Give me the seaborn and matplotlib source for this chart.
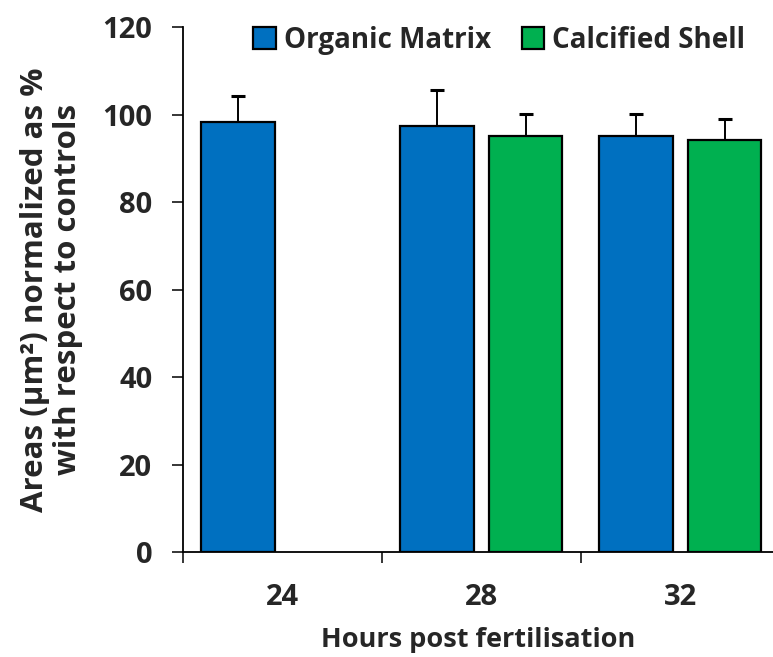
import pandas as pd
import seaborn as sns
import matplotlib.pyplot as plt

# values
hours = ["24", "28", "32"]
organic_matrix = [98.2, 97.4, 95.2]
organic_err = [6.1, 8.3, 4.9]
calcified_shell = [None, 95.2, 94.2]
calcified_err = [None, 4.9, 4.7]

rows = []
for h, v, e in zip(hours, organic_matrix, organic_err):
    rows.append({"hours": h, "group": "Organic Matrix", "value": v, "err": e})
for h, v, e in zip(hours, calcified_shell, calcified_err):
    if v is not None:
        rows.append({"hours": h, "group": "Calcified Shell", "value": v, "err": e})
df = pd.DataFrame(rows)

sns.set_style("ticks")
plt.rcParams['font.family'] = ['Open Sans', 'DejaVu Sans']
plt.rcParams['font.weight'] = 'bold'

fig = plt.figure(figsize=(7.73, 6.57), dpi=100)
ax = fig.add_axes([0.2367, 0.1598, 0.7633, 0.7991])

palette = {"Organic Matrix": "#0070C0", "Calcified Shell": "#00B050"}
sns.barplot(data=df, x="hours", y="value", hue="group", order=hours,
            hue_order=["Organic Matrix", "Calcified Shell"], palette=palette,
            width=0.89, gap=0.17, edgecolor="black", linewidth=1.6,
            saturation=1, errorbar=None, ax=ax)

# error bars (upper only), placed on the bars seaborn drew
errs = {(r.hours, r.group): r.err for r in df.itertuples()}
for cont, grp in zip(ax.containers, ["Organic Matrix", "Calcified Shell"]):
    for bar in cont:
        h = bar.get_height()
        if h != h or h == 0:
            continue
        xc = bar.get_x() + bar.get_width() / 2
        cat = hours[int(round(xc))]
        e = errs.get((cat, grp))
        if e is None:
            continue
        eb = ax.errorbar(xc, h, yerr=[[0], [e]], fmt="none", ecolor="black",
                         elinewidth=1.4, capsize=5, capthick=2.2, zorder=3)
        # hide the lower cap sitting on the bar top
        for cap in eb.lines[1]:
            if cap.get_ydata()[0] <= h + 1e-9:
                cap.set_visible(False)

ax.set_ylim(0, 120)
ax.set_yticks(range(0, 121, 20))
ax.set_xlim(-0.5, 2.465)
ax.set_xticks([-0.5, 0.5, 1.5], minor=True)
ax.tick_params(axis="x", which="major", length=0, pad=22, labelsize=21)
ax.tick_params(axis="x", which="minor", length=8, width=1.3, direction="out")
ax.tick_params(axis="y", length=8, width=1.3, labelsize=21, pad=14)
for lab in ax.get_xticklabels() + ax.get_yticklabels():
    lab.set_fontweight("bold")

sns.despine(ax=ax)
for s in ["left", "bottom"]:
    ax.spines[s].set_linewidth(1.3)
    ax.spines[s].set_color("black")

ax.set_xlabel("Hours post fertilisation", fontsize=19.5, fontweight="bold", labelpad=11)
ax.set_ylabel("Areas (µm²) normalized as %\nwith respect to controls",
              fontsize=22.5, fontweight="bold", labelpad=14, linespacing=1.15)

leg = ax.legend(loc="center", bbox_to_anchor=(0.536, 0.975), ncol=2, frameon=False,
                prop={"size": 20, "weight": "bold"}, handlelength=0.8,
                handleheight=0.8, handletextpad=0.3, columnspacing=1.1)

fig.savefig("out.png", dpi=100)
